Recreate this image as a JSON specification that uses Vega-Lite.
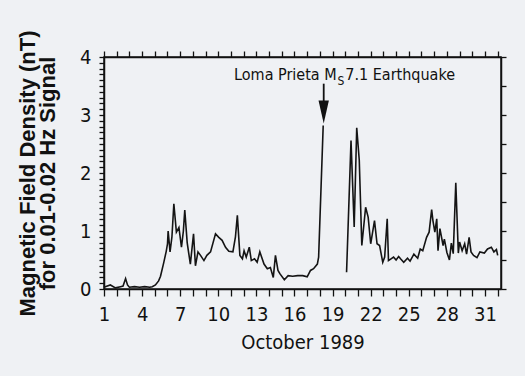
{
  "$schema": "https://vega.github.io/schema/vega-lite/v6.json",
  "width": 397,
  "height": 232,
  "autosize": {"type": "none"},
  "padding": {"left": 104, "top": 57, "right": 24, "bottom": 87},
  "background": "#eff1f4",
  "config": {
    "view": {"stroke": "#111111", "strokeWidth": 1.5},
    "axis": {
      "domainColor": "#111111", "tickColor": "#111111", "labelColor": "#111111", "titleColor": "#111111",
      "domainWidth": 1.5, "tickWidth": 1.3, "grid": false,
      "labelFont": "Liberation Sans Narrow, DejaVu Sans Condensed, sans-serif",
      "titleFont": "Liberation Sans Narrow, DejaVu Sans Condensed, sans-serif"
    }
  },
  "datasets": {
    "series": [
      {"day": 1.0, "val": 0.03, "seg": "a"}, {"day": 1.1, "val": 0.04, "seg": "a"}, {"day": 1.5, "val": 0.07, "seg": "a"},
      {"day": 1.9, "val": 0.02, "seg": "a"}, {"day": 2.3, "val": 0.04, "seg": "a"}, {"day": 2.5, "val": 0.05, "seg": "a"},
      {"day": 2.7, "val": 0.18, "seg": "a"}, {"day": 2.85, "val": 0.07, "seg": "a"}, {"day": 3.0, "val": 0.03, "seg": "a"},
      {"day": 3.4, "val": 0.04, "seg": "a"}, {"day": 3.8, "val": 0.03, "seg": "a"}, {"day": 4.2, "val": 0.04, "seg": "a"},
      {"day": 4.6, "val": 0.03, "seg": "a"}, {"day": 4.8, "val": 0.04, "seg": "a"}, {"day": 5.05, "val": 0.07, "seg": "a"},
      {"day": 5.3, "val": 0.14, "seg": "a"}, {"day": 5.45, "val": 0.22, "seg": "a"}, {"day": 5.7, "val": 0.45, "seg": "a"},
      {"day": 5.9, "val": 0.65, "seg": "a"}, {"day": 6.0, "val": 0.78, "seg": "a"}, {"day": 6.05, "val": 1.0, "seg": "a"},
      {"day": 6.2, "val": 0.64, "seg": "a"}, {"day": 6.35, "val": 0.9, "seg": "a"}, {"day": 6.5, "val": 1.47, "seg": "a"},
      {"day": 6.7, "val": 0.98, "seg": "a"}, {"day": 6.9, "val": 1.06, "seg": "a"}, {"day": 7.1, "val": 0.72, "seg": "a"},
      {"day": 7.25, "val": 1.0, "seg": "a"}, {"day": 7.36, "val": 1.36, "seg": "a"}, {"day": 7.55, "val": 0.8, "seg": "a"},
      {"day": 7.67, "val": 0.62, "seg": "a"}, {"day": 7.8, "val": 0.43, "seg": "a"}, {"day": 8.05, "val": 0.95, "seg": "a"},
      {"day": 8.2, "val": 0.4, "seg": "a"}, {"day": 8.4, "val": 0.64, "seg": "a"}, {"day": 8.6, "val": 0.58, "seg": "a"},
      {"day": 8.87, "val": 0.49, "seg": "a"}, {"day": 9.1, "val": 0.58, "seg": "a"}, {"day": 9.39, "val": 0.64, "seg": "a"},
      {"day": 9.78, "val": 0.95, "seg": "a"}, {"day": 10.04, "val": 0.89, "seg": "a"}, {"day": 10.3, "val": 0.84, "seg": "a"},
      {"day": 10.57, "val": 0.72, "seg": "a"}, {"day": 10.83, "val": 0.65, "seg": "a"}, {"day": 11.15, "val": 0.64, "seg": "a"},
      {"day": 11.35, "val": 0.9, "seg": "a"}, {"day": 11.5, "val": 1.27, "seg": "a"}, {"day": 11.7, "val": 0.58, "seg": "a"},
      {"day": 11.9, "val": 0.52, "seg": "a"}, {"day": 12.03, "val": 0.66, "seg": "a"}, {"day": 12.2, "val": 0.55, "seg": "a"},
      {"day": 12.44, "val": 0.72, "seg": "a"}, {"day": 12.6, "val": 0.49, "seg": "a"}, {"day": 12.85, "val": 0.52, "seg": "a"},
      {"day": 13.06, "val": 0.46, "seg": "a"}, {"day": 13.27, "val": 0.64, "seg": "a"}, {"day": 13.6, "val": 0.43, "seg": "a"},
      {"day": 13.86, "val": 0.35, "seg": "a"}, {"day": 14.1, "val": 0.37, "seg": "a"}, {"day": 14.33, "val": 0.2, "seg": "a"},
      {"day": 14.5, "val": 0.58, "seg": "a"}, {"day": 14.7, "val": 0.32, "seg": "a"}, {"day": 14.86, "val": 0.26, "seg": "a"},
      {"day": 15.2, "val": 0.16, "seg": "a"}, {"day": 15.5, "val": 0.23, "seg": "a"}, {"day": 15.85, "val": 0.22, "seg": "a"},
      {"day": 16.25, "val": 0.23, "seg": "a"}, {"day": 16.65, "val": 0.23, "seg": "a"}, {"day": 17.0, "val": 0.21, "seg": "a"},
      {"day": 17.26, "val": 0.32, "seg": "a"}, {"day": 17.5, "val": 0.35, "seg": "a"}, {"day": 17.8, "val": 0.43, "seg": "a"},
      {"day": 17.9, "val": 0.55, "seg": "a"}, {"day": 18.26, "val": 2.82, "seg": "a"},
      {"day": 20.1, "val": 0.29, "seg": "b"}, {"day": 20.45, "val": 2.56, "seg": "b"}, {"day": 20.7, "val": 1.07, "seg": "b"},
      {"day": 20.9, "val": 2.78, "seg": "b"}, {"day": 21.1, "val": 2.22, "seg": "b"}, {"day": 21.3, "val": 0.75, "seg": "b"},
      {"day": 21.6, "val": 1.41, "seg": "b"}, {"day": 21.8, "val": 1.24, "seg": "b"}, {"day": 22.0, "val": 0.78, "seg": "b"},
      {"day": 22.3, "val": 1.18, "seg": "b"}, {"day": 22.5, "val": 0.78, "seg": "b"}, {"day": 22.7, "val": 0.75, "seg": "b"},
      {"day": 22.95, "val": 0.46, "seg": "b"}, {"day": 23.1, "val": 0.55, "seg": "b"}, {"day": 23.3, "val": 1.21, "seg": "b"},
      {"day": 23.4, "val": 0.49, "seg": "b"}, {"day": 23.6, "val": 0.52, "seg": "b"}, {"day": 23.8, "val": 0.55, "seg": "b"},
      {"day": 24.0, "val": 0.5, "seg": "b"}, {"day": 24.2, "val": 0.56, "seg": "b"}, {"day": 24.35, "val": 0.52, "seg": "b"},
      {"day": 24.6, "val": 0.46, "seg": "b"}, {"day": 24.9, "val": 0.53, "seg": "b"}, {"day": 25.1, "val": 0.48, "seg": "b"},
      {"day": 25.4, "val": 0.6, "seg": "b"}, {"day": 25.7, "val": 0.53, "seg": "b"}, {"day": 25.9, "val": 0.69, "seg": "b"},
      {"day": 26.1, "val": 0.66, "seg": "b"}, {"day": 26.4, "val": 0.89, "seg": "b"}, {"day": 26.6, "val": 0.98, "seg": "b"},
      {"day": 26.8, "val": 1.37, "seg": "b"}, {"day": 26.9, "val": 1.18, "seg": "b"}, {"day": 27.05, "val": 0.98, "seg": "b"},
      {"day": 27.2, "val": 1.21, "seg": "b"}, {"day": 27.3, "val": 0.66, "seg": "b"}, {"day": 27.45, "val": 1.04, "seg": "b"},
      {"day": 27.7, "val": 0.75, "seg": "b"}, {"day": 27.8, "val": 0.86, "seg": "b"}, {"day": 28.0, "val": 0.63, "seg": "b"},
      {"day": 28.2, "val": 0.5, "seg": "b"}, {"day": 28.35, "val": 0.79, "seg": "b"}, {"day": 28.5, "val": 0.61, "seg": "b"},
      {"day": 28.7, "val": 1.83, "seg": "b"}, {"day": 28.9, "val": 0.62, "seg": "b"}, {"day": 29.0, "val": 0.81, "seg": "b"},
      {"day": 29.2, "val": 0.66, "seg": "b"}, {"day": 29.4, "val": 0.78, "seg": "b"}, {"day": 29.55, "val": 0.6, "seg": "b"},
      {"day": 29.75, "val": 0.89, "seg": "b"}, {"day": 29.9, "val": 0.64, "seg": "b"}, {"day": 30.1, "val": 0.58, "seg": "b"},
      {"day": 30.37, "val": 0.54, "seg": "b"}, {"day": 30.6, "val": 0.64, "seg": "b"}, {"day": 30.95, "val": 0.62, "seg": "b"},
      {"day": 31.2, "val": 0.69, "seg": "b"}, {"day": 31.5, "val": 0.72, "seg": "b"}, {"day": 31.7, "val": 0.64, "seg": "b"},
      {"day": 31.9, "val": 0.68, "seg": "b"}, {"day": 32.0, "val": 0.58, "seg": "b"}
    ],
    "arrow": [{"day": 18.3, "top": 3.54, "bottom": 3.15, "head": 3.05}],
    "notes": [
      {"day": 19.32, "val": 3.595, "text": "Loma Prieta M", "part": "left"},
      {"day": 19.39, "val": 3.51, "text": "S", "part": "sub"},
      {"day": 20.0, "val": 3.595, "text": "7.1 Earthquake", "part": "right"}
    ]
  },
  "layer": [
    {
      "data": {"name": "series"},
      "mark": {"type": "line", "color": "#141414", "strokeWidth": 1.6},
      "encoding": {
        "x": {
          "field": "day", "type": "quantitative",
          "scale": {"domain": [1, 32.26], "nice": false, "zero": false},
          "axis": {
            "orient": "bottom", "title": "October 1989",
            "values": [1,2,3,4,5,6,7,8,9,10,11,12,13,14,15,16,17,18,19,20,21,22,23,24,25,26,27,28,29,30,31,32],
            "labelExpr": "(datum.value - 1) % 3 == 0 && datum.value <= 31 ? format(datum.value, 'd') : ''",
            "tickSize": 7, "labelPadding": 8, "labelFontSize": 20, "labelFlush": false, "labelOverlap": false, "labelBound": false,
            "titleFontSize": 20, "titleFontWeight": "normal", "titlePadding": 8
          }
        },
        "y": {
          "field": "val", "type": "quantitative",
          "scale": {"domain": [0, 4], "nice": false},
          "axis": {
            "orient": "left",
            "title": ["Magnetic Field Density (nT)", "for 0.01-0.02 Hz Signal"],
            "values": [0,0.1,0.2,0.3,0.4,0.5,0.6,0.7,0.8,0.9,1,1.1,1.2,1.3,1.4,1.5,1.6,1.7,1.8,1.9,2,2.1,2.2,2.3,2.4,2.5,2.6,2.7,2.8,2.9,3,3.1,3.2,3.3,3.4,3.5,3.6,3.7,3.8,3.9,4],
            "labelExpr": "datum.value % 1 == 0 ? format(datum.value, 'd') : ''",
            "tickSize": 5,
            "labelPadding": 8, "labelFontSize": 20, "labelOverlap": false, "labelBound": false, "labelFlush": false,
            "titleFont": "Liberation Sans, Arial, sans-serif", "titleFontSize": 22, "titleFontWeight": "bold",
            "titleLineHeight": 20, "titlePadding": 20
          }
        },
        "detail": {"field": "seg"}
      }
    },
    {
      "data": {"name": "arrow"},
      "mark": {"type": "rule", "color": "#111111", "strokeWidth": 1.8},
      "encoding": {
        "x": {
          "field": "day", "type": "quantitative",
          "axis": {
            "orient": "top", "title": null, "labels": false, "tickSize": 6, "domain": true,
            "values": [1,2,3,4,5,6,7,8,9,10,11,12,13,14,15,16,17,18,19,20,21,22,23,24,25,26,27,28,29,30,31,32]
          }
        },
        "y": {
          "field": "top", "type": "quantitative",
          "axis": {
            "orient": "right", "title": null, "labels": false, "tickSize": 5,
            "values": [0,0.5,1,1.5,2,2.5,3,3.5,4]
          }
        },
        "y2": {"field": "bottom"}
      }
    },
    {
      "data": {"name": "arrow"},
      "mark": {"type": "point", "shape": "M-0.45,-1L0.45,-1L0,1Z", "filled": true, "color": "#111111", "size": 529, "opacity": 1},
      "encoding": {
        "x": {"field": "day", "type": "quantitative", "axis": null},
        "y": {"field": "head", "type": "quantitative", "axis": null}
      }
    },
    {
      "data": {"name": "notes"},
      "transform": [{"filter": "datum.part == 'left'"}],
      "mark": {"type": "text", "font": "Liberation Sans Narrow, DejaVu Sans Condensed, sans-serif", "baseline": "alphabetic", "align": "right", "fontSize": 16, "color": "#111111"},
      "encoding": {
        "x": {"field": "day", "type": "quantitative", "axis": null},
        "y": {"field": "val", "type": "quantitative", "axis": null},
        "text": {"field": "text"}
      }
    },
    {
      "data": {"name": "notes"},
      "transform": [{"filter": "datum.part == 'sub'"}],
      "mark": {"type": "text", "font": "Liberation Sans Narrow, DejaVu Sans Condensed, sans-serif", "baseline": "alphabetic", "align": "left", "fontSize": 12, "color": "#111111"},
      "encoding": {
        "x": {"field": "day", "type": "quantitative", "axis": null},
        "y": {"field": "val", "type": "quantitative", "axis": null},
        "text": {"field": "text"}
      }
    },
    {
      "data": {"name": "notes"},
      "transform": [{"filter": "datum.part == 'right'"}],
      "mark": {"type": "text", "font": "Liberation Sans Narrow, DejaVu Sans Condensed, sans-serif", "baseline": "alphabetic", "align": "left", "fontSize": 16, "color": "#111111"},
      "encoding": {
        "x": {"field": "day", "type": "quantitative", "axis": null},
        "y": {"field": "val", "type": "quantitative", "axis": null},
        "text": {"field": "text"}
      }
    }
  ],
  "resolve": {"axis": {"x": "independent", "y": "independent"}}
}
